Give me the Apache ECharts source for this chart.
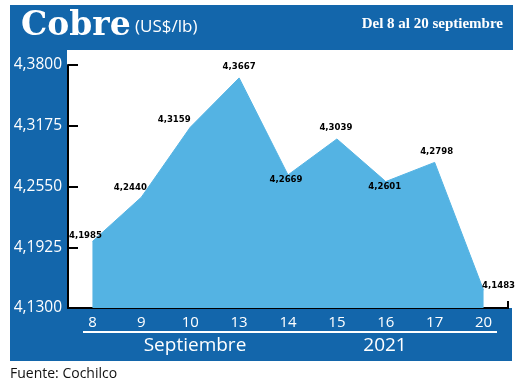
<!DOCTYPE html>
<html><head><meta charset="utf-8">
<script src="https://cdn.jsdelivr.net/npm/echarts@6/dist/echarts.min.js"></script>
<style>html,body{margin:0;padding:0;background:#fff}#c{width:520px;height:390px}</style>
</head><body><div id="c"></div>
<script>
const categories = ['8','9','10','13','14','15','16','17','20'];
const prices = [4.1985, 4.2440, 4.3159, 4.3667, 4.2669, 4.3039, 4.2601, 4.2798, 4.1483];
const yTicks = [4.1300, 4.1925, 4.2550, 4.3175, 4.3800];
const labelOffsets = [[-7,-6],[-11,-10],[-16,-8],[0,-11],[-2,5],[-1,-11],[-1,5],[2,-11],[15,-5]];

const BLUE = '#1366ab';
const AREA = '#54b3e3';
const fmt = v => v.toFixed(4).replace('.', ',');

const chart = echarts.init(document.getElementById('c'), null, {renderer:'canvas'});
chart.setOption({
  animation:false,
  grid:{left:68, right:12, top:65, bottom:82},
  xAxis:{type:'category', data:categories, boundaryGap:true,
    axisLine:{lineStyle:{color:'#000', width:2}},
    axisTick:{show:false},
    axisLabel:{color:'#fff', fontSize:15, fontFamily:'Open Sans', margin:7}},
  yAxis:{type:'value', min:4.13, max:4.38,
    axisLine:{show:true, lineStyle:{color:'#000', width:2}},
    axisTick:{show:true, inside:true, length:10, lineStyle:{color:'#000', width:2}, customValues:yTicks},
    axisLabel:{color:'#fff', fontSize:15.5, fontFamily:'Open Sans', margin:6, customValues:yTicks, formatter:fmt},
    splitLine:{show:false}},
  series:[{type:'line', data:prices.map((v,i)=>({value:v, label:{offset:labelOffsets[i]}})),
    symbol:'circle', symbolSize:0.1, itemStyle:{color:AREA},
    lineStyle:{color:AREA, width:1},
    areaStyle:{color:AREA, opacity:1, origin:'start'},
    label:{show:true, position:'inside', formatter:p=>fmt(p.value), color:'#000',
      fontSize:9.5, fontWeight:'bold', fontFamily:'"Liberation Sans Narrow","DejaVu Sans Condensed",sans-serif'},
    z:2}],
  graphic:[
    {type:'rect', shape:{x:10,y:5,width:503,height:45}, style:{fill:BLUE}, z:-10},
    {type:'rect', shape:{x:10,y:50,width:57,height:259}, style:{fill:BLUE}, z:-10},
    {type:'rect', shape:{x:10,y:308,width:502,height:53}, style:{fill:BLUE}, z:-10},
    {type:'line', shape:{x1:83,y1:332,x2:497,y2:332}, style:{stroke:'#fff', lineWidth:2}, z:10},
    {type:'line', shape:{x1:508,y1:301,x2:508,y2:309}, style:{stroke:'#000', lineWidth:2}, z:10},
    {type:'text', x:21, y:10, style:{text:'Cobre', fill:'#fff', font:'bold 33px "DejaVu Serif"'}, z:10},
    {type:'text', x:135, y:19, style:{text:'(US$/lb)', fill:'#fff', font:'17px "Open Sans"'}, z:10},
    {type:'text', x:503, y:17, style:{text:'Del 8 al 20 septiembre', fill:'#fff', font:'bold 15px "Liberation Serif"', align:'right'}, z:10},
    {type:'text', x:195, y:346, style:{text:'Septiembre', fill:'#fff', font:'19px "Open Sans"', align:'center', verticalAlign:'middle'}, z:10},
    {type:'text', x:385, y:346, style:{text:'2021', fill:'#fff', font:'19px "Open Sans"', align:'center', verticalAlign:'middle'}, z:10},
    {type:'text', x:10, y:367, style:{text:'Fuente: Cochilco', fill:'#111', font:'14px "Open Sans"'}, z:10}
  ]
});
</script></body></html>
